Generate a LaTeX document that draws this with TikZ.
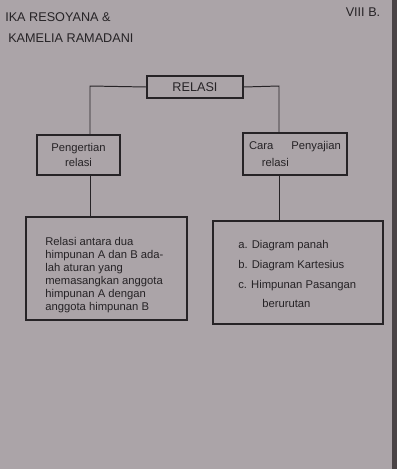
\documentclass[tikz,border=0pt]{standalone}
\usepackage{fontspec}
\setsansfont{Liberation Sans}
\definecolor{paper}{HTML}{ABA4A8}
\definecolor{ink}{HTML}{262326}
\definecolor{edge}{HTML}{4A4446}

\begin{document}
\begin{tikzpicture}[x=0.025cm, y=-0.025cm, nodes = {font=\sffamily, text=ink},
    box/.style = {draw=ink, line width=0.8pt},
    wire/.style = {draw=ink, line width=0.7pt},
    note/.style = {font=\sffamily\fontsize{8}{9.2}\selectfont, align=left, anchor=north west, inner sep=0pt}]
  % paper
  \fill[paper] (0,0) rectangle (397,469);
  \fill[edge] (392,0) rectangle (397,469);
  \useasboundingbox (0,0) rectangle (397,469);

  % header
  \node[anchor=west, inner sep=0pt, font=\sffamily\small] (name1) at (5,17) {IKA RESOYANA \&};
  \node[anchor=west, inner sep=0pt, font=\sffamily\small] (name2) at (8,38) {KAMELIA RAMADANI};
  \node[inner sep=0pt, font=\sffamily\small] (kelas) at (363,12) {VIII B.};

  % boxes
  \node[box, minimum width=2.4cm, minimum height=0.55cm, font=\sffamily\small] (relasi) at (195,87) {RELASI};
  \node[box, minimum width=2.075cm, minimum height=1cm, align=center, font=\sffamily\footnotesize] (pengertian) at (78.5,155) {Pengertian\\[1pt]relasi};
  \node[box, minimum width=2.6cm, minimum height=1.05cm, align=center, font=\sffamily\footnotesize] (cara) at (295,154) {Cara\hspace{1.6em}Penyajian\\[3pt]\hspace*{-28pt}relasi};
  \node[box, minimum width=4.025cm, minimum height=2.575cm] (isi) at (106.5,268.5) {};
  \node[box, minimum width=4.25cm, minimum height=2.575cm] (jenis) at (298,272.5) {};

  \node[note] (teks1) at (45,237) {Relasi antara dua\\himpunan A dan B ada-\\lah aturan yang\\memasangkan anggota\\himpunan A dengan\\anggota himpunan B};
  \node[note, font=\sffamily\fontsize{8}{14.2}\selectfont] (teks2) at (238,240) {a. Diagram panah\\b. Diagram Kartesius\\c. Himpunan Pasangan};
  \node[note, font=\sffamily\fontsize{8}{14.2}\selectfont] (teks3) at (262,299) {berurutan};

  % connectors
  \coordinate (kiri) at (90,86);
  \coordinate (kanan) at (279,86);
  \draw[wire] (relasi.west) -- (kiri) -- (kiri |- pengertian.north);
  \draw[wire] (relasi.east) -- (kanan) -- (kanan |- cara.north);
  \draw[wire] (kiri |- pengertian.south) -- (kiri |- isi.north);
  \draw[wire] (kanan |- cara.south) -- (kanan |- jenis.north);
\end{tikzpicture}
\end{document}
